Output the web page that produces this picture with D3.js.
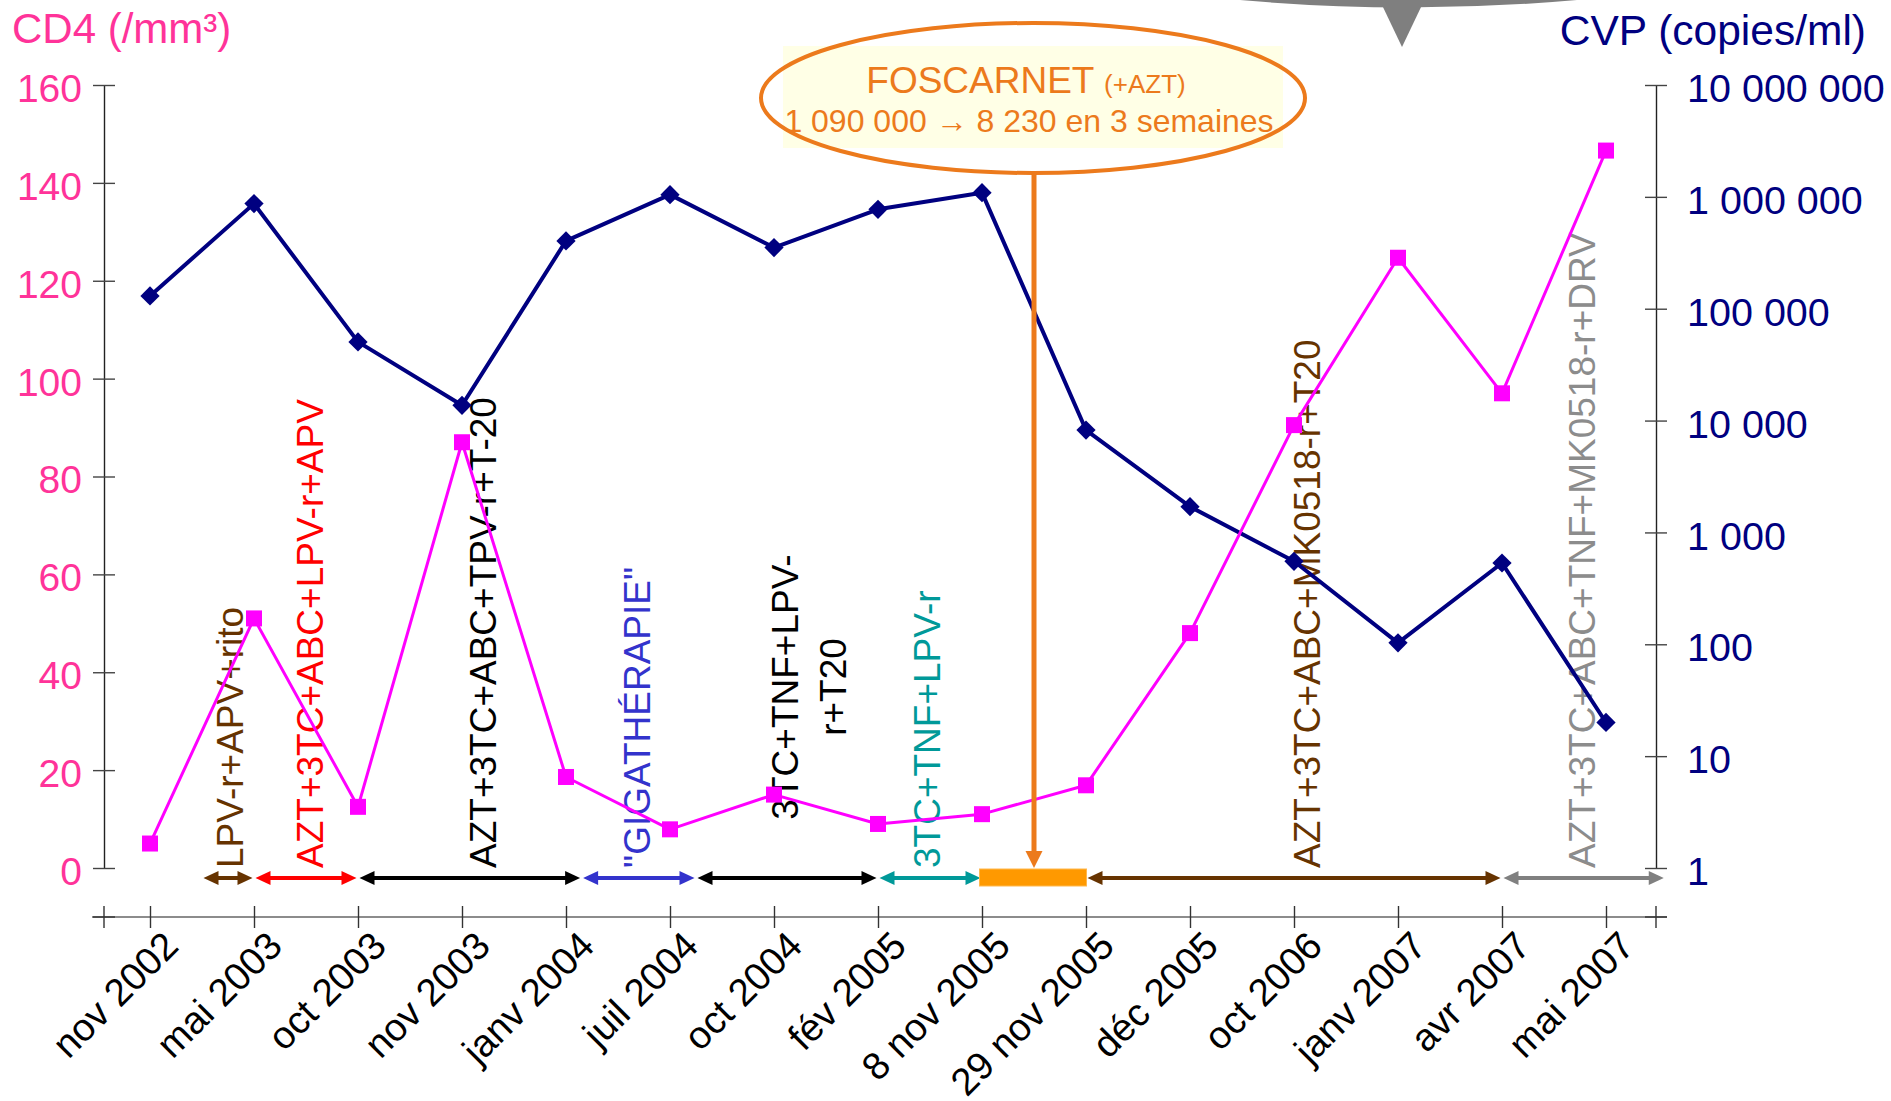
<!DOCTYPE html>
<html><head><meta charset="utf-8">
<script src="https://cdn.jsdelivr.net/npm/d3@7"></script>
<style>
body{margin:0;background:#fff}
svg{display:block}
text{font-family:"Liberation Sans",Arial,Helvetica,sans-serif}
</style>
</head><body>
<svg id="c" width="1891" height="1101"></svg>
<script>
// ---------- data ----------
const categories = ["nov 2002","mai 2003","oct 2003","nov 2003","janv 2004","juil 2004","oct 2004","fév 2005","8 nov 2005","29 nov 2005","déc 2005","oct 2006","janv 2007","avr 2007","mai 2007"];
const cd4 = [5, 51, 12.5, 87, 18.6, 7.9, 15, 9, 11, 16.9, 48, 90.5, 124.7, 97, 146.6];
const cvp = [130000, 870000, 50500, 13700, 404000, 1047000, 352000, 774000, 1090000, 8230, 1700, 552, 103, 533, 20];
const cd4Ticks = [0, 20, 40, 60, 80, 100, 120, 140, 160];
const cvpTicks = [1, 10, 100, 1000, 10000, 100000, 1000000, 10000000];
const cvpTickLabels = ["1", "10", "100", "1 000", "10 000", "100 000", "1 000 000", "10 000 000"];

// treatment periods (in category positions)
const periodStart = [0.5, 1, 2, 4.15, 5.25, 7, 9, 13];
const periodEnd   = [1, 2, 4.15, 5.25, 7, 8, 13, 14.57];
const periodArrowColor = ["#663300", "#ff0000", "#000000", "#3333cc", "#000000", "#009999", "#663300", "#808080"];
const periodTextColor  = ["#663300", "#ff0000", "#000000", "#3333cc", "#000000", "#009999", "#663300", "#8c8c8c"];
const periodLabel = [["LPV-r+APV+rito"], ["AZT+3TC+ABC+LPV-r+APV"], ["AZT+3TC+ABC+TPV-r+T-20"], ["\"GIGATHÉRAPIE\""], ["3TC+TNF+LPV-", "r+T20"], ["3TC+TNF+LPV-r"], ["AZT+3TC+ABC+MK0518-r+T20"], ["AZT+3TC+ABC+TNF+MK0518-r+DRV"]];
const periodLabelPos = [0.77, 1.54, 3.21, 4.69, 6.34, 7.48, 11.13, 13.77];
const foscarnetPeriod = [8, 9];
const foscarnetTitle = "FOSCARNET ";
const foscarnetSub = "(+AZT)";
const foscarnetText = "1 090 000 \u2192 8 230 en 3 semaines";

// ---------- layout ----------
const leftAxisX = 104, rightAxisX = 1656;
const yTop = 85, yBottom = 868, xAxisY = 917, arrowY = 878;
const svg = d3.select("#c");

const pos = d3.scaleLinear().domain([0, categories.length - 1]).range([150, 1606]);
const xP = d3.scalePoint().domain(categories).range([150, 1606]);
const yL = d3.scaleLinear().domain([0, 160]).range([yBottom, yTop]);
const yR = d3.scaleLog().domain([1, 1e7]).range([yBottom, yTop]);

const PINK = "#ff3399", NAVY = "#000080", MAG = "#ff00ff", ORANGE = "#ec7a1c";
const FF = "Liberation Sans, Arial, sans-serif";

// ---------- top callout remnant ----------
svg.append("path").attr("d", "M1240,0 Q1408,15 1577,0 Z").attr("fill", "#7f7f7f");
svg.append("path").attr("d", "M1382,5 L1422,5 L1402,47 Z").attr("fill", "#7f7f7f");

// ---------- titles ----------
svg.append("text").attr("x", 12).attr("y", 43).attr("fill", PINK).attr("font-size", 42).text("CD4 (/mm³)");
svg.append("text").attr("x", 1866).attr("y", 45).attr("text-anchor", "end").attr("fill", NAVY).attr("font-size", 42.5).text("CVP (copies/ml)");

// ---------- left axis ----------
const gL = svg.append("g").attr("transform", `translate(${leftAxisX},0)`)
  .call(d3.axisLeft(yL).tickValues(cd4Ticks).tickSizeInner(11).tickSizeOuter(0).tickPadding(12));
gL.select(".domain").attr("stroke", "#222").attr("stroke-width", 1.4);
gL.selectAll(".tick line").attr("x1", -11).attr("x2", 11).attr("stroke", "#444").attr("stroke-width", 1.4);
gL.selectAll(".tick text").attr("fill", PINK).attr("font-size", 39).attr("font-family", FF).attr("dy", "0.42em").attr("x", -22);

// ---------- right axis ----------
const gR = svg.append("g").attr("transform", `translate(${rightAxisX},0)`)
  .call(d3.axisRight(yR).tickValues(cvpTicks).tickFormat((d, i) => cvpTickLabels[i]).tickSizeInner(11).tickSizeOuter(0).tickPadding(20));
gR.select(".domain").attr("stroke", "#222").attr("stroke-width", 1.4);
gR.selectAll(".tick line").attr("x1", -11).attr("x2", 11).attr("stroke", "#444").attr("stroke-width", 1.4);
gR.selectAll(".tick text").attr("fill", NAVY).attr("font-size", 39.5).attr("font-family", FF).attr("dy", "0.42em").attr("x", 31);

// ---------- x axis ----------
const gX = svg.append("g").attr("transform", `translate(0,${xAxisY})`)
  .call(d3.axisBottom(xP).tickSizeInner(11).tickSizeOuter(0).tickPadding(0));
gX.select(".domain").remove();
gX.insert("line", ":first-child").attr("x1", leftAxisX - 12).attr("x2", rightAxisX + 11).attr("y1", 0).attr("y2", 0)
  .attr("stroke", "#666").attr("stroke-width", 1.6);
gX.selectAll(".tick line").attr("y1", -11).attr("y2", 11).attr("stroke", "#333").attr("stroke-width", 1.4);
gX.selectAll(".tick text").attr("fill", "#000").attr("font-size", 38.5).attr("font-family", FF)
  .attr("text-anchor", "end").attr("y", 0).attr("dy", 0).attr("transform", "translate(30,31) rotate(-45)");
[leftAxisX, rightAxisX].forEach(ax => {
  gX.append("line").attr("x1", ax).attr("x2", ax).attr("y1", -11).attr("y2", 11).attr("stroke", "#333").attr("stroke-width", 1.4);
  gX.append("line").attr("x1", ax - 11).attr("x2", ax + 11).attr("y1", 0).attr("y2", 0).attr("stroke", "#333").attr("stroke-width", 1.4);
});

// ---------- treatment labels ----------
const gLab = svg.append("g");
periodLabel.forEach((lines, i) => {
  const cx = pos(periodLabelPos[i]);
  if (lines.length === 1) {
    gLab.append("text").attr("transform", `translate(${cx},${yBottom}) rotate(-90)`)
      .attr("dominant-baseline", "central").attr("fill", periodTextColor[i]).attr("font-size", 37).text(lines[0]);
  } else {
    const gap = 47.6;
    lines.forEach((ln, j) => {
      const off = (j - (lines.length - 1) / 2) * gap;
      gLab.append("text").attr("transform", `translate(${cx + off},687) rotate(-90)`)
        .attr("text-anchor", "middle").attr("dominant-baseline", "central").attr("fill", periodTextColor[i]).attr("font-size", 37).text(ln);
    });
  }
});

// ---------- treatment arrows ----------
const gArr = svg.append("g");
const headL = 15, headW = 7;
periodStart.forEach((s, i) => {
  const x1 = pos(s) + 1.5, x2 = pos(periodEnd[i]) - 1.5, c = periodArrowColor[i];
  gArr.append("line").attr("x1", x1 + headL - 2).attr("x2", x2 - headL + 2).attr("y1", arrowY).attr("y2", arrowY)
    .attr("stroke", c).attr("stroke-width", 4);
  gArr.append("path").attr("d", `M${x1},${arrowY} L${x1 + headL},${arrowY - headW} L${x1 + headL},${arrowY + headW} Z`).attr("fill", c);
  gArr.append("path").attr("d", `M${x2},${arrowY} L${x2 - headL},${arrowY - headW} L${x2 - headL},${arrowY + headW} Z`).attr("fill", c);
});
gArr.append("rect").attr("x", pos(foscarnetPeriod[0]) - 2.5).attr("y", arrowY - 9)
  .attr("width", pos(foscarnetPeriod[1]) - pos(foscarnetPeriod[0]) + 3).attr("height", 17)
  .attr("fill", "#ff9900").attr("stroke", "#ffb84d").attr("stroke-width", 1);

// ---------- series ----------
const lineL = d3.line().x((d, i) => xP(categories[i])).y(d => yL(d));
const lineR = d3.line().x((d, i) => xP(categories[i])).y(d => yR(d));

svg.append("path").datum(cvp).attr("d", lineR).attr("fill", "none").attr("stroke", NAVY).attr("stroke-width", 4).attr("stroke-linejoin", "round");
svg.append("path").datum(cd4).attr("d", lineL).attr("fill", "none").attr("stroke", MAG).attr("stroke-width", 3).attr("stroke-linejoin", "round");

const diamond = d3.symbol().type(d3.symbolSquare).size(185);
svg.append("g").selectAll("path").data(cvp).join("path")
  .attr("d", diamond).attr("fill", NAVY)
  .attr("transform", (d, i) => `translate(${xP(categories[i])},${yR(d)}) rotate(45)`);
svg.append("g").selectAll("rect").data(cd4).join("rect")
  .attr("x", (d, i) => xP(categories[i]) - 8).attr("y", d => yL(d) - 8)
  .attr("width", 16).attr("height", 16).attr("fill", MAG);

// ---------- FOSCARNET annotation ----------
const fx = pos((foscarnetPeriod[0] + foscarnetPeriod[1]) / 2);
const ecx = fx - 1, ecy = 98, erx = 272, ery = 75;
svg.append("rect").attr("x", ecx - 250).attr("y", 46).attr("width", 500).attr("height", 102).attr("fill", "#ffffe6");
svg.append("ellipse").attr("cx", ecx).attr("cy", ecy).attr("rx", erx).attr("ry", ery)
  .attr("fill", "none").attr("stroke", ORANGE).attr("stroke-width", 4);
const t1 = svg.append("text").attr("x", ecx - 7).attr("y", 93).attr("text-anchor", "middle").attr("fill", ORANGE);
t1.append("tspan").attr("font-size", 37).text(foscarnetTitle);
t1.append("tspan").attr("font-size", 26).text(foscarnetSub);
svg.append("text").attr("x", ecx - 4).attr("y", 132).attr("text-anchor", "middle").attr("fill", ORANGE).attr("font-size", 32).text(foscarnetText);

svg.append("line").attr("x1", fx).attr("x2", fx).attr("y1", ecy + ery).attr("y2", yBottom - 16)
  .attr("stroke", ORANGE).attr("stroke-width", 5);
svg.append("path").attr("d", `M${fx},${yBottom} L${fx - 8.5},${yBottom - 17} L${fx + 8.5},${yBottom - 17} Z`).attr("fill", ORANGE);
</script>
</body></html>
